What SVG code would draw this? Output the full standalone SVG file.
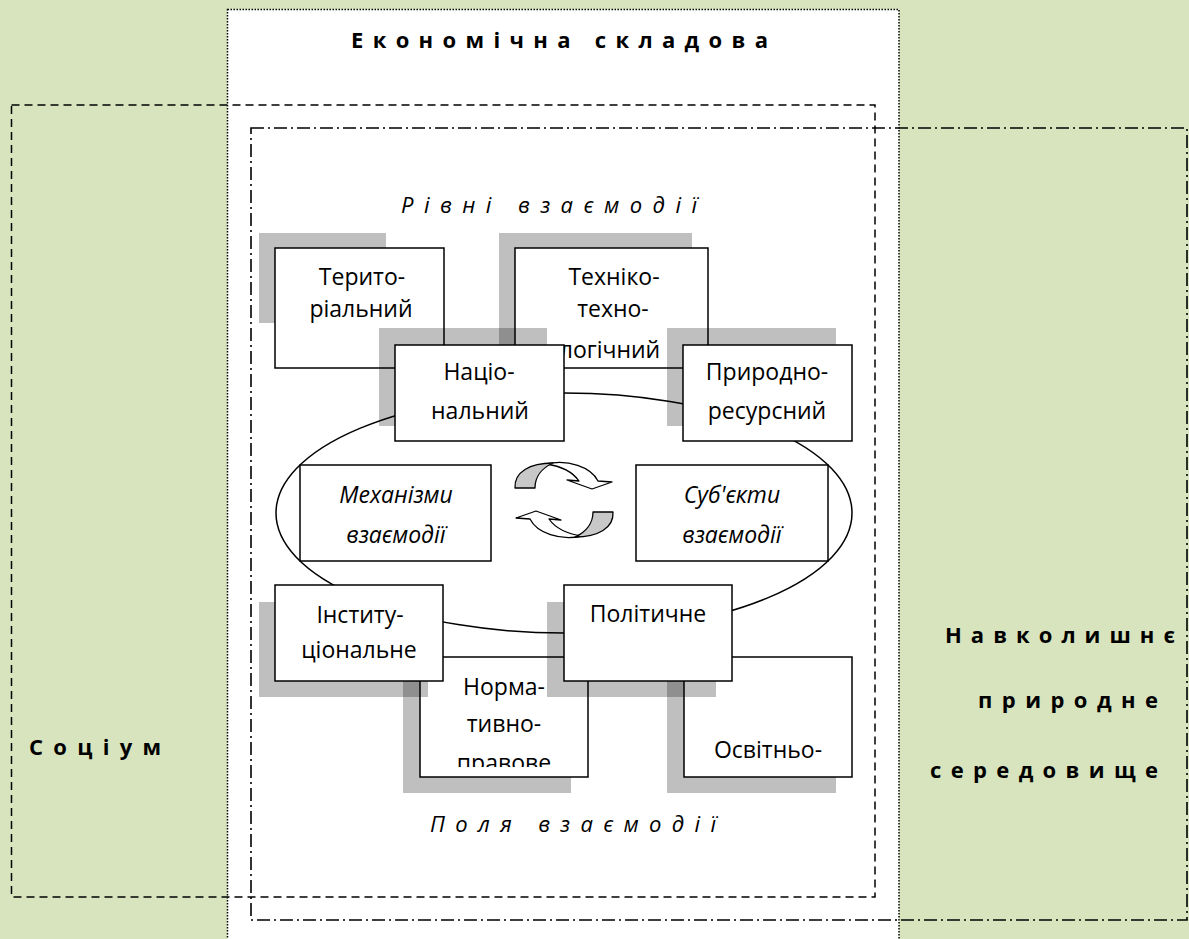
<svg xmlns="http://www.w3.org/2000/svg" width="1189" height="939" viewBox="0 0 1189 939">
<style>
.box{fill:#fff;stroke:#000;stroke-width:1.5}
.sh{fill:#000;fill-opacity:0.25}
.t{font-family:"Open Sans","Noto Sans",sans-serif;font-size:23px;fill:#000;text-anchor:middle}
.ti{font-family:"Open Sans","Noto Sans",sans-serif;font-size:23px;font-style:italic;fill:#000;text-anchor:middle}
.lb{font-family:"Open Sans","Noto Sans",sans-serif;font-size:22px;font-weight:bold;fill:#000}
.li{font-family:"Open Sans","Noto Sans",sans-serif;font-size:22px;font-style:italic;fill:#000}
.arr{stroke:#000;stroke-width:1.3;stroke-linejoin:round}
</style>
<defs>
<clipPath id="clipNorma"><rect x="420" y="657" width="168" height="110"/></clipPath>
</defs>
<rect x="0" y="0" width="1189" height="939" fill="#D7E4BD"/>
<g id="economic-panel">
<rect x="227.5" y="9.5" width="671.5" height="940" fill="#fff" stroke="#000" stroke-width="1.5" stroke-dasharray="1.5 1.5"/>
<text class="lb" x="351" y="48" textLength="417" lengthAdjust="spacing">Економічна складова</text>
</g>
<g id="socium">
<rect x="11.5" y="105" width="863.5" height="792" fill="none" stroke="#000" stroke-width="1.5" stroke-dasharray="8 5"/>
<text class="lb" x="29" y="755" textLength="132" lengthAdjust="spacing">Соціум</text>
</g>
<g id="environment">
<rect x="251" y="128" width="936" height="792" fill="none" stroke="#000" stroke-width="1.6" stroke-dasharray="13 4 2 4"/>
<text class="lb" x="945" y="643" textLength="230" lengthAdjust="spacing">Навколишнє</text>
<text class="lb" x="978" y="708" textLength="180" lengthAdjust="spacing">природне</text>
<text class="lb" x="930" y="778" textLength="228" lengthAdjust="spacing">середовище</text>
</g>
<g id="labels">
<text class="li" x="401" y="213" textLength="296" lengthAdjust="spacing">Рівні взаємодії</text>
<text class="li" x="430" y="832" textLength="286" lengthAdjust="spacing">Поля взаємодії</text>
</g>
<g id="connectors">
<ellipse cx="564" cy="513" rx="288" ry="120" fill="none" stroke="#000" stroke-width="1.5"/>
</g>
<g id="node-terytorialnyi">
<rect class="sh" x="259" y="233" width="127" height="90"/>
<rect class="box" x="275" y="248" width="169" height="120"/>
<text class="t" x="362" y="285">Терито-</text>
<text class="t" x="361" y="317">ріальний</text>
</g>
<g id="node-tekhniko">
<rect class="sh" x="499" y="233" width="193" height="120"/>
<rect class="box" x="515" y="248" width="193" height="120"/>
<text class="t" x="614" y="285">Техніко-</text>
<text class="t" x="613" y="317">техно-</text>
<text class="t" x="610" y="358">логічний</text>
</g>
<g id="node-natsionalnyi">
<rect class="sh" x="379" y="328" width="168" height="98"/>
<rect class="box" x="395" y="345" width="169" height="96"/>
<text class="t" x="479" y="380">Націо-</text>
<text class="t" x="480" y="419">нальний</text>
</g>
<g id="node-pryrodno">
<rect class="sh" x="667" y="328" width="169" height="98"/>
<rect class="box" x="683" y="345" width="169" height="96"/>
<text class="t" x="767" y="380">Природно-</text>
<text class="t" x="767" y="419">ресурсний</text>
</g>
<g id="node-mekhanizmy">
<rect class="box" x="300" y="465" width="191" height="96"/>
<text class="ti" x="396" y="503">Механізми</text>
<text class="ti" x="396" y="543">взаємодії</text>
</g>
<g id="node-subiekty">
<rect class="box" x="636" y="465" width="192" height="96"/>
<text class="ti" x="732" y="503">Суб'єкти</text>
<text class="ti" x="732" y="543">взаємодії</text>
</g>
<g id="cycle-arrows">
<g id="arrow-top">
<path class="arr" fill="#fff" d="M546,464 C568,459 591,467 598,481 L612,482 L592,489 L567,480 L579,481 C572,471 560,466 546,464 Z"/>
<path class="arr" fill="#C8C8C8" d="M515,488 C514,472 530,463 553,463 C542,468 535,477 535,488 Z"/>
</g>
<g id="arrow-bottom" transform="rotate(180 564 500)">
<path class="arr" fill="#fff" d="M546,464 C568,459 591,467 598,481 L612,482 L592,489 L567,480 L579,481 C572,471 560,466 546,464 Z"/>
<path class="arr" fill="#C8C8C8" d="M515,488 C514,472 530,463 553,463 C542,468 535,477 535,488 Z"/>
</g>
</g>
<g id="node-normatyvno">
<rect class="sh" x="403" y="673" width="168" height="120"/>
<rect class="box" x="420" y="657" width="168" height="120"/>
<g clip-path="url(#clipNorma)">
<text class="t" x="504" y="695">Норма-</text>
<text class="t" x="504" y="732">тивно-</text>
<text class="t" x="504" y="771">правове</text>
</g>
</g>
<g id="node-osvitno">
<rect class="sh" x="667" y="673" width="169" height="120"/>
<rect class="box" x="684" y="657" width="168" height="120"/>
<text class="t" x="768" y="758">Освітньо-</text>
</g>
<g id="node-instytutsionalne">
<rect class="sh" x="259" y="602" width="169" height="95"/>
<rect class="box" x="275" y="585" width="168" height="96"/>
<text class="t" x="360" y="623">Інститу-</text>
<text class="t" x="359" y="658">ціональне</text>
</g>
<g id="node-politychne">
<rect class="sh" x="547" y="602" width="169" height="95"/>
<rect class="box" x="564" y="585" width="168" height="96"/>
<text class="t" x="648" y="622">Політичне</text>
</g>
</svg>
